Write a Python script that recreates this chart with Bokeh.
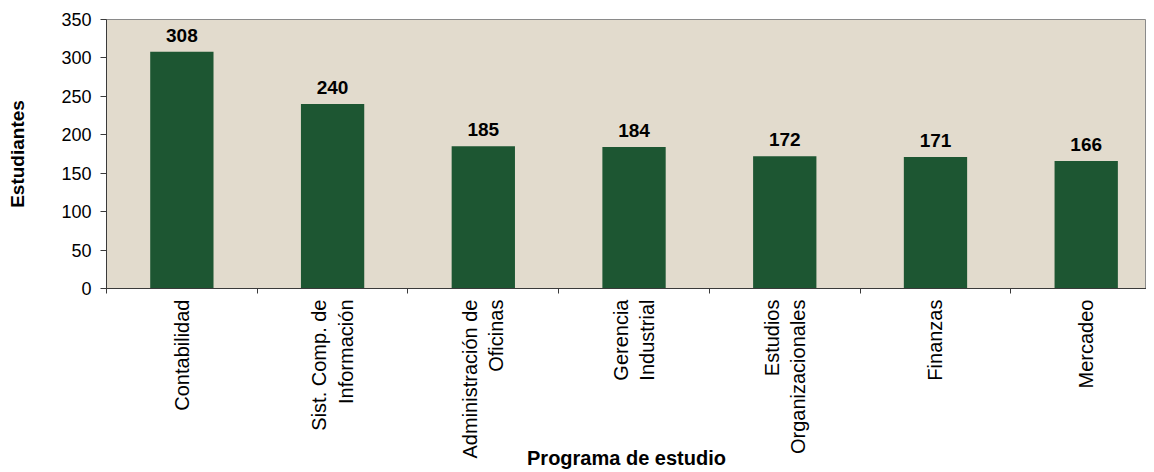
import math
import numpy as np
from bokeh.plotting import figure
from bokeh.models import (ColumnDataSource, Range1d, FixedTicker, CustomJSTickFormatter, LabelSet)
from bokeh.core.properties import value
from bokeh.embed import file_html
from bokeh.resources import INLINE

categories = ["Contabilidad", "Sist. Comp. de\nInformación", "Administración de\nOficinas",
              "Gerencia\nIndustrial", "Estudios\nOrganizacionales", "Finanzas", "Mercadeo"]
values = [308, 240, 185, 184, 172, 171, 166]
y_ticks = [0, 50, 100, 150, 200, 250, 300, 350]

FONT = "Liberation Sans"
n = len(categories)
centers = (np.arange(n) + 0.5).tolist()
boundaries = list(range(n + 1))

src = ColumnDataSource(dict(x=centers, top=values, label=[str(v) for v in values]))

p = figure(width=1146, height=472, output_backend="svg", toolbar_location=None,
           x_range=Range1d(0, 6.90), y_range=Range1d(0, 350),
           min_border_left=106, min_border_right=0, min_border_top=19, min_border_bottom=182)
p.background_fill_color = "#e2dbcd"
p.border_fill_color = "white"
p.outline_line_color = "#8a8a8a"
p.grid.visible = False

p.vbar(x="x", top="top", width=0.42, bottom=0, source=src,
       fill_color="#1d5632", line_color=None)

p.add_layout(LabelSet(x="x", y="top", text="label", source=src, y_offset=10,
                      text_align="center", text_baseline="alphabetic",
                      text_font=value(FONT), text_font_size=value("19px"),
                      text_font_style="bold", text_color="black"))

# x axis
xa = p.xaxis[0]
xa.ticker = FixedTicker(ticks=centers, minor_ticks=boundaries)
xa.formatter = CustomJSTickFormatter(args=dict(labels=categories),
                                     code="const i = Math.round(tick - 0.5); return (i >= 0 && i < labels.length) ? labels[i] : '';")
xa.major_label_orientation = math.pi / 2
xa.major_label_text_align = "center"
xa.major_tick_out = 0
xa.major_tick_in = 0
xa.minor_tick_out = 5
xa.minor_tick_in = 0
xa.major_label_standoff = 6
xa.major_label_text_font = FONT
xa.major_label_text_font_size = "20px"
xa.major_label_text_color = "black"
xa.axis_line_color = "#3a3a3a"
xa.minor_tick_line_color = "#3a3a3a"
xa.axis_label = "Programa de estudio"
xa.axis_label_standoff = -14
xa.axis_label_text_font = FONT
xa.axis_label_text_font_size = "20px"
xa.axis_label_text_font_style = "bold"
xa.axis_label_text_color = "black"

# y axis
ya = p.yaxis[0]
ya.ticker = FixedTicker(ticks=y_ticks)
ya.minor_tick_line_color = None
ya.major_tick_out = 6
ya.major_tick_in = 0
ya.major_label_standoff = 9
ya.major_label_text_font = FONT
ya.major_label_text_font_size = "18px"
ya.major_label_text_color = "black"
ya.axis_line_color = "#3a3a3a"
ya.major_tick_line_color = "#3a3a3a"
ya.axis_label = "Estudiantes"
ya.axis_label_standoff = 30
ya.axis_label_text_font = FONT
ya.axis_label_text_font_size = "19px"
ya.axis_label_text_font_style = "bold"
ya.axis_label_text_color = "black"

open("out.html", "w").write(file_html(p, INLINE))
